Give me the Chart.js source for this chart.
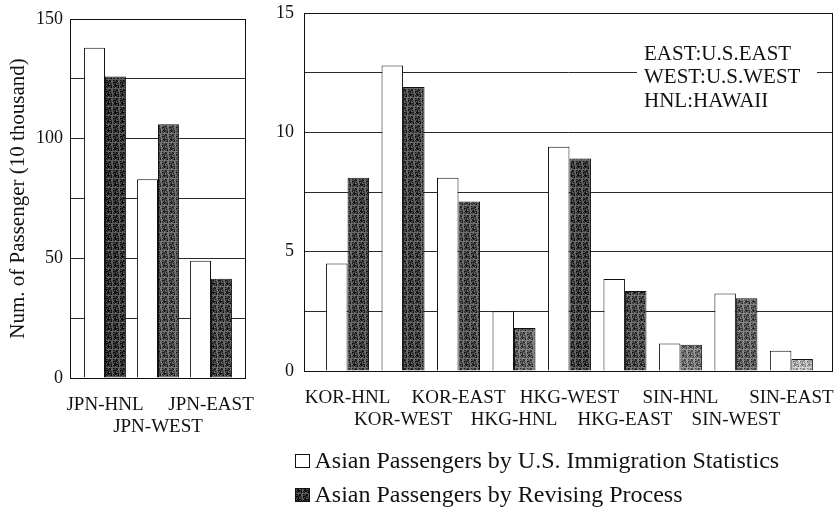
<!DOCTYPE html>
<html>
<head>
<meta charset="utf-8">
<script src="https://cdn.jsdelivr.net/npm/chart.js@4"></script>
<style>
  html, body { margin: 0; padding: 0; background: #fff; }
  #wrap { position: relative; width: 835px; height: 514px; overflow: hidden; background: #fff; }
  #jpnChart { position: absolute; left: 0; top: 0; }
  #asiaChart { position: absolute; left: 260px; top: 0; }
</style>
</head>
<body>
<div id="wrap">
  <canvas id="jpnChart" width="260" height="445"></canvas>
  <canvas id="asiaChart" width="575" height="514"></canvas>
</div>
<script>
// ---- data ----
const seriesNames = [
  'Asian Passengers by U.S. Immigration Statistics',
  'Asian Passengers by Revising Process'
];

// Japan routes (10 thousand passengers)
const jpnRoutes = ['JPN-HNL', 'JPN-WEST', 'JPN-EAST'];
const jpnImmigration = [138, 83, 49];
const jpnRevised = [126, 106, 41.5];
const jpnTickLabels = [0, 50, 100, 150];

// Korea / Hong Kong / Singapore routes (10 thousand passengers)
const asiaRoutes = ['KOR-HNL', 'KOR-WEST', 'KOR-EAST', 'HKG-HNL', 'HKG-WEST', 'HKG-EAST', 'SIN-HNL', 'SIN-WEST', 'SIN-EAST'];
const asiaImmigration = [4.5, 12.8, 8.1, 2.5, 9.4, 3.85, 1.15, 3.25, 0.85];
const asiaRevised = [8.1, 11.9, 7.1, 1.8, 8.9, 3.35, 1.1, 3.05, 0.5];
const asiaTickLabels = [0, 5, 10, 15];

const regionNotes = ['EAST:U.S.EAST', 'WEST:U.S.WEST', 'HNL:HAWAII'];

// ---- styling ----
const SERIF = '"Liberation Serif", "Times New Roman", serif';
const INK = '#111';
Chart.defaults.font.family = SERIF;
Chart.defaults.color = INK;

// base grey levels of the halftone-printed "revised" bars
const jpnShades = [48, 72, 62];
const asiaShades = [62, 58, 66, 88, 56, 70, 108, 88, 168];

// speckled halftone tile built from a fixed hash so every render is identical
function halftone(level) {
  const tile = document.createElement('canvas');
  tile.width = 7; tile.height = 9;
  const tctx = tile.getContext('2d');
  const img = tctx.createImageData(7, 9);
  for (let y = 0; y < 9; y++) {
    for (let x = 0; x < 7; x++) {
      const h = (x * 37 + y * 91 + x * y * 17 + 11) % 13;
      const v = Math.max(0, Math.min(255, level + (h - 6) * 9));
      const k = (y * 7 + x) * 4;
      img.data[k] = img.data[k + 1] = img.data[k + 2] = v;
      img.data[k + 3] = 255;
    }
  }
  tctx.putImageData(img, 0, 0);
  return tctx.createPattern(tile, 'repeat');
}

const toPoints = arr => arr.map((v, i) => ({ x: i, y: v }));

// full box around the plotting area
const framePlugin = {
  id: 'frame',
  afterDatasetsDraw(chart) {
    const { ctx, chartArea: a } = chart;
    const l = Math.round(a.left), t = Math.round(a.top), r = Math.round(a.right), b = Math.round(a.bottom);
    ctx.save();
    ctx.strokeStyle = INK;
    ctx.lineWidth = 1;
    ctx.strokeRect(l + 0.5, t + 0.5, r - l - 1, b - t);
    ctx.restore();
  }
};

// region abbreviation note inside the right plot
const notePlugin = {
  id: 'regionNote',
  afterDatasetsDraw(chart) {
    const { ctx, chartArea: a } = chart;
    ctx.save();
    ctx.fillStyle = '#fff';
    ctx.fillRect(a.left + 333, a.top + 23, 180, 76);
    ctx.fillStyle = INK;
    ctx.font = '21px ' + SERIF;
    ctx.textBaseline = 'alphabetic';
    ctx.textAlign = 'left';
    regionNotes.forEach((line, i) => {
      ctx.fillText(line, a.left + 340, a.top + 46.5 + i * 23.7);
    });
    ctx.restore();
  }
};

// two-row legend under the right plot
const legendPlugin = {
  id: 'stackedLegend',
  afterDraw(chart) {
    const { ctx, chartArea: a } = chart;
    ctx.save();
    ctx.font = '24px ' + SERIF;
    ctx.textBaseline = 'alphabetic';
    chart.data.datasets.forEach((ds, i) => {
      const boxTop = Math.round(a.bottom + 83 + i * 33.5);
      const bx = Math.round(a.left - 9.5);
      ctx.fillStyle = i === 0 ? '#fff' : halftone(46);
      ctx.fillRect(bx, boxTop, 15, 14);
      ctx.strokeStyle = INK;
      ctx.lineWidth = 1;
      ctx.strokeRect(bx + 0.5, boxTop + 0.5, 14, 13);
      ctx.fillStyle = INK;
      ctx.fillText(ds.label, a.left + 10.5, a.bottom + 97.3 + i * 33.5);
    });
    ctx.restore();
  }
};

function stagger(labels) {
  return (value) => {
    const i = Math.round(value);
    const name = labels[i];
    if (name === undefined) return '';
    return i % 2 === 0 ? name : ['', name];
  };
}

function makeConfig(opts) {
  return {
    type: 'bar',
    data: {
      datasets: [
        {
          label: seriesNames[0],
          data: toPoints(opts.immigration),
          backgroundColor: '#ffffff',
          borderColor: INK,
          borderWidth: 1,
          categoryPercentage: opts.catPct,
          barPercentage: 1
        },
        {
          label: seriesNames[1],
          data: toPoints(opts.revised),
          backgroundColor: opts.shades.map(halftone),
          borderColor: INK,
          borderWidth: 1,
          categoryPercentage: opts.catPct,
          barPercentage: 1
        }
      ]
    },
    options: {
      responsive: false,
      animation: false,
      events: [],
      layout: { padding: opts.padding },
      plugins: { legend: { display: false }, tooltip: { enabled: false } },
      scales: {
        x: {
          type: 'linear',
          offset: false,
          min: opts.xMin,
          max: opts.xMax,
          grid: { display: false, drawTicks: false },
          border: { display: false },
          afterBuildTicks: s => { s.ticks = opts.routes.map((_, i) => ({ value: i })); },
          afterFit: s => {
            s.height = opts.xHeight;
            s.paddingLeft = 0;
            s.paddingRight = 0;
          },
          ticks: {
            autoSkip: false,
            maxRotation: 0,
            minRotation: 0,
            padding: 16,
            color: INK,
            font: { size: 19, lineHeight: 1.15 },
            callback: stagger(opts.routes)
          }
        },
        y: {
          min: 0,
          max: opts.yMax,
          grid: { color: '#2a2a2a', lineWidth: 1, drawTicks: false },
          border: { display: false },
          afterFit: s => {
            s.width = opts.yWidth;
            s.paddingTop = 0;
            s.paddingBottom = 0;
          },
          ticks: {
            stepSize: opts.yMax / 6,
            padding: opts.yPad,
            color: INK,
            font: { size: 18 },
            callback: v => (opts.tickLabels.includes(v) ? String(v) : '')
          },
          title: opts.yTitle
        }
      }
    },
    plugins: opts.plugins
  };
}

new Chart(document.getElementById('jpnChart'), makeConfig({
  routes: jpnRoutes,
  immigration: jpnImmigration,
  revised: jpnRevised,
  shades: jpnShades,
  tickLabels: jpnTickLabels,
  yMax: 150,
  xMin: -0.66,
  xMax: 2.66,
  catPct: 0.79,
  xHeight: 67,
  yWidth: 70,
  yPad: 7,
  padding: { top: 19, right: 14, left: 0, bottom: 0 },
  yTitle: {
    display: true,
    text: 'Num. of Passenger (10 thousand)',
    color: INK,
    font: { size: 21 },
    padding: { top: 6, bottom: 0 }
  },
  plugins: [framePlugin]
}));

new Chart(document.getElementById('asiaChart'), makeConfig({
  routes: asiaRoutes,
  immigration: asiaImmigration,
  revised: asiaRevised,
  shades: asiaShades,
  tickLabels: asiaTickLabels,
  yMax: 15,
  xMin: -0.785,
  xMax: 8.75,
  catPct: 0.775,
  xHeight: 143,
  yWidth: 44,
  yPad: 10,
  padding: { top: 13, right: 2, left: 0, bottom: 0 },
  yTitle: { display: false },
  plugins: [framePlugin, notePlugin, legendPlugin]
}));
</script>
</body>
</html>
